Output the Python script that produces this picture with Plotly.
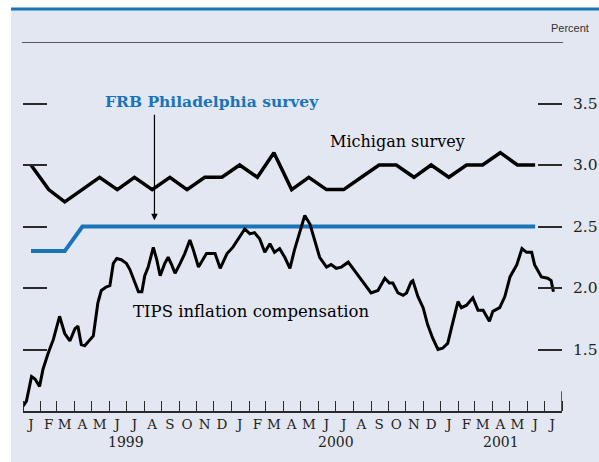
import pandas as pd
import plotly.graph_objects as go

# ---------------- data ----------------
month_letters = list("JFMAMJJASOND") * 2 + list("JFMAMJJ")
years = ["1999", "2000", "2001"]
year_pos = ["1999-07-01", "2000-07-01", "2001-04-17"]

michigan = [3.0, 2.8, 2.7, 2.8, 2.9, 2.8, 2.9, 2.8, 2.9, 2.8, 2.9, 2.9,
            3.0, 2.9, 3.1, 2.8, 2.9, 2.8, 2.8, 2.9, 3.0, 3.0, 2.9, 3.0,
            2.9, 3.0, 3.0, 3.1, 3.0, 3.0]
frb_philly = [2.3, 2.3, 2.3] + [2.5] * 27

tips_dates = ["1999-01-01","1999-01-07","1999-01-16","1999-01-22","1999-01-30","1999-02-05","1999-02-14","1999-02-23",
              "1999-03-06","1999-03-15","1999-03-24","1999-04-02","1999-04-07","1999-04-13","1999-04-19","1999-04-28",
              "1999-05-04","1999-05-12","1999-05-18","1999-05-27","1999-06-02","1999-06-08","1999-06-14","1999-06-22",
              "1999-07-01","1999-07-07","1999-07-16","1999-07-22","1999-07-28","1999-08-02","1999-08-08","1999-08-17",
              "1999-08-23","1999-08-29","1999-09-06","1999-09-12","1999-09-18","1999-09-24","1999-10-03","1999-10-11",
              "1999-10-20","1999-10-26","1999-11-04","1999-11-18","1999-12-03","1999-12-12","1999-12-24","2000-01-03",
              "2000-01-24","2000-02-02","2000-02-10","2000-02-19","2000-02-28","2000-03-08","2000-03-16","2000-03-25",
              "2000-04-03","2000-04-12","2000-04-20","2000-04-29","2000-05-08","2000-05-17","2000-05-25","2000-06-03",
              "2000-06-15","2000-06-23","2000-07-02","2000-07-11","2000-07-23","2000-07-31","2000-08-12","2000-08-24",
              "2000-09-01","2000-09-13","2000-09-25","2000-10-03","2000-10-09","2000-10-18","2000-10-27","2000-11-02",
              "2000-11-10","2000-11-13","2000-11-22","2000-12-01","2000-12-09","2000-12-18","2000-12-27","2001-01-04",
              "2001-01-13","2001-01-22","2001-01-31","2001-02-06","2001-02-15","2001-02-26","2001-03-07","2001-03-16",
              "2001-03-27","2001-04-02","2001-04-14","2001-04-23","2001-05-02","2001-05-14","2001-05-23","2001-05-31",
              "2001-06-09","2001-06-14","2001-06-26","2001-07-07","2001-07-13","2001-07-17"]
tips_values = [1.04,1.08,1.28,1.26,1.20,1.34,1.47,1.58,1.77,1.63,
               1.57,1.67,1.69,1.54,1.53,1.58,1.61,1.88,1.98,2.01,
               2.02,2.20,2.24,2.23,2.20,2.15,2.04,1.97,1.97,2.10,
               2.17,2.33,2.23,2.10,2.20,2.25,2.19,2.12,2.20,2.28,
               2.39,2.31,2.17,2.28,2.28,2.16,2.28,2.33,2.48,2.44,
               2.45,2.40,2.29,2.36,2.29,2.32,2.25,2.16,2.31,2.44,
               2.59,2.52,2.39,2.25,2.17,2.19,2.16,2.17,2.21,2.16,
               2.08,2.00,1.96,1.98,2.08,2.04,2.04,1.96,1.94,1.96,
               2.05,2.06,1.93,1.84,1.70,1.59,1.50,1.51,1.55,1.72,
               1.89,1.84,1.86,1.92,1.82,1.82,1.73,1.81,1.84,1.93,
               2.09,2.19,2.32,2.29,2.29,2.19,2.09,2.08,2.06,1.97]

y_ticks = [1.5, 2.0, 2.5, 3.0, 3.5]
y_ticktext = ["1.5", "2.0", "2.5", "3.0", "3.5"]

# --------------- derived positions ---------------
month_starts = pd.date_range("1999-01-01", periods=len(month_letters) + 1, freq="MS")
month_mids = month_starts[:-1] + pd.Timedelta(days=14)
survey_x = month_mids[:len(michigan)]

BG = "#e3e7f1"
BLUE = "#1a74b8"
DARK = "#2a2a2a"
SERIF = "DejaVu Serif"

fig = go.Figure()
fig.add_trace(go.Scatter(x=survey_x, y=frb_philly, mode="lines",
                         line=dict(color=BLUE, width=4), hoverinfo="skip"))
fig.add_trace(go.Scatter(x=pd.to_datetime(tips_dates), y=tips_values, mode="lines",
                         line=dict(color="black", width=3), hoverinfo="skip"))
fig.add_trace(go.Scatter(x=survey_x, y=michigan, mode="lines",
                         line=dict(color="black", width=3.5), hoverinfo="skip"))

shapes = [
    dict(type="rect", xref="paper", yref="paper", x0=-0.0223, x1=1.08, y0=-0.2, y1=1.0894,
         fillcolor=BG, line=dict(width=0), layer="below"),
    dict(type="line", xref="paper", yref="paper", x0=-0.0223, x1=1.08, y0=1.0894, y1=1.0894,
         line=dict(color=BLUE, width=3)),
    dict(type="line", xref="paper", yref="y", x0=-0.002, x1=1.002, y0=4.0, y1=4.0,
         line=dict(color=DARK, width=1.5)),
    dict(type="line", xref="x", yref="y", x0=month_starts[-1], x1=month_starts[-1], y0=1.0, y1=1.16,
         line=dict(color=DARK, width=1.5)),
]

annotations = [
    dict(x="1999-11-28", y=3.52, xref="x", yref="y", text="<b>FRB Philadelphia survey</b>",
         showarrow=False, font=dict(family=SERIF, size=15.5, color=BLUE)),
    dict(x="1999-08-19", y=2.55, xref="x", yref="y", ax="1999-08-19", ay=3.42, axref="x", ayref="y",
         text="", showarrow=True, arrowhead=2, arrowsize=1.1, arrowwidth=1.2, arrowcolor="black"),
    dict(x="2000-10-18", y=3.19, xref="x", yref="y", text="Michigan survey",
         showarrow=False, font=dict(family=SERIF, size=16, color="black")),
    dict(x="2000-02-05", y=1.81, xref="x", yref="y", text="TIPS inflation compensation",
         showarrow=False, font=dict(family=SERIF, size=16.5, color="black")),
    dict(x=0.976, y=1.038, xref="paper", yref="paper", xanchor="left", yanchor="middle",
         text="Percent", showarrow=False,
         font=dict(family="Liberation Sans", size=11, color="#333")),
]
for yr, pos in zip(years, year_pos):
    annotations.append(dict(x=pos, y=-0.111, xref="x", yref="paper", text=yr, showarrow=False,
                            font=dict(family=SERIF, size=14, color="#222")))

fig.update_layout(
    width=599, height=462,
    margin=dict(l=23, r=37, t=42, b=51),
    paper_bgcolor="white", plot_bgcolor="rgba(0,0,0,0)",
    showlegend=False,
    shapes=shapes, annotations=annotations,
    xaxis=dict(type="date", range=[month_starts[0], month_starts[-1]], automargin=False,
               showgrid=False, zeroline=False,
               showline=True, linecolor=DARK, linewidth=2,
               tickmode="array", tickvals=month_mids, ticktext=month_letters, ticks="",
               tickfont=dict(family=SERIF, size=13.5, color="#222"),
               minor=dict(tickmode="array", tickvals=month_starts, ticks="inside",
                          ticklen=10, tickwidth=1.3, tickcolor=DARK, showgrid=False)),
    yaxis=dict(range=[1.0, 4.0], side="right", automargin=False,
               showgrid=False, zeroline=False, showline=False,
               tickmode="array", tickvals=y_ticks, ticktext=y_ticktext,
               ticks="inside", ticklen=24, tickwidth=1.5, tickcolor=DARK, mirror="ticks",
               ticklabelstandoff=10,
               tickfont=dict(family=SERIF, size=15.5, color="#222")),
)

fig.write_html("out.html", config={"displayModeBar": False},
               post_script="document.body.style.margin='0';document.body.style.overflow='hidden';")
